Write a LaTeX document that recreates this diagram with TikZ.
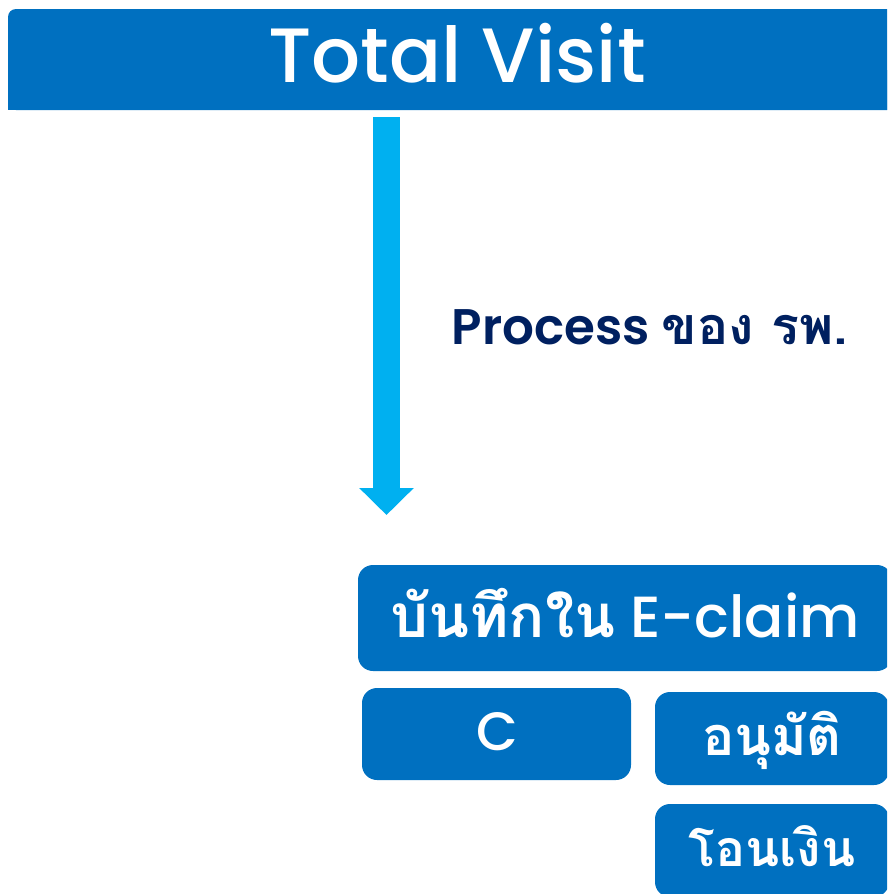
\documentclass[tikz,border=0pt]{standalone}
\usepackage{fontspec}
\setmainfont{Poppins}
\newfontfamily\popsemi{Poppins SemiBold}
\newfontfamily\popmed{Poppins Medium}
\newfontfamily\thaifont[Script=Thai]{Loma}
\usetikzlibrary{arrows.meta}
\definecolor{boxblue}{RGB}{0,112,192}
\definecolor{arrowblue}{RGB}{0,176,240}
\definecolor{navy}{RGB}{0,32,96}
\tikzset{
  bluebox/.style={fill=boxblue, rounded corners=15pt, inner sep=0pt},
  boxtext/.style={text=white, inner sep=0pt, anchor=base},
  bigarrow/.style={arrowblue, line width=27pt, -{Triangle[width=53pt,length=27pt]}}
}
\begin{document}
\begin{tikzpicture}[x=1pt,y=-1pt]
\useasboundingbox (0,0) rectangle (887,894);
\clip (0,0) rectangle (887,894);
% top banner
\node[bluebox, rounded corners=8pt, minimum width=898pt, minimum height=101pt] (top) at (457,59.5) {};
\fill[boxblue] (8,70) rectangle (906,110);
\node[boxtext, font=\popmed\fontsize{77}{77}\selectfont] (toptext) at (457,82) {Total Visit};
% arrow
\coordinate (a1) at (386.5,117);
\coordinate (a2) at (386.5,515);
\draw[bigarrow] (a1) -- (a2);
% label
\node[text=navy, font=\popsemi\fontsize{50}{50}\selectfont, inner sep=0pt, anchor=base] (proc) at (650,344) {Process {\thaifont\bfseries\fontsize{52}{52}\selectfont ของ รพ.}};
% boxes
\node[bluebox, minimum width=534pt, minimum height=106pt] (eclaim) at (625,618) {};
\node[boxtext, font=\popmed\fontsize{58}{58}\selectfont] (eclaimtext) at (625,637) {{\thaifont\bfseries\fontsize{60}{60}\selectfont บันทึกใน} E-claim};
\node[bluebox, minimum width=269pt, minimum height=92pt] (cbox) at (496.5,734) {};
\node[boxtext, font=\popmed\fontsize{54}{54}\selectfont] (ctext) at (497,750) {C};
\node[bluebox, minimum width=234pt, minimum height=93pt] (appr) at (772,738.5) {};
\node[boxtext, font=\thaifont\bfseries\fontsize{54}{54}\selectfont] (apprtext) at (772,755) {อนุมัติ};
\node[bluebox, minimum width=234pt, minimum height=93pt] (xfer) at (772,850.5) {};
\node[boxtext, font=\thaifont\bfseries\fontsize{50}{50}\selectfont] (xfertext) at (772,866) {โอนเงิน};
\end{tikzpicture}
\end{document}
